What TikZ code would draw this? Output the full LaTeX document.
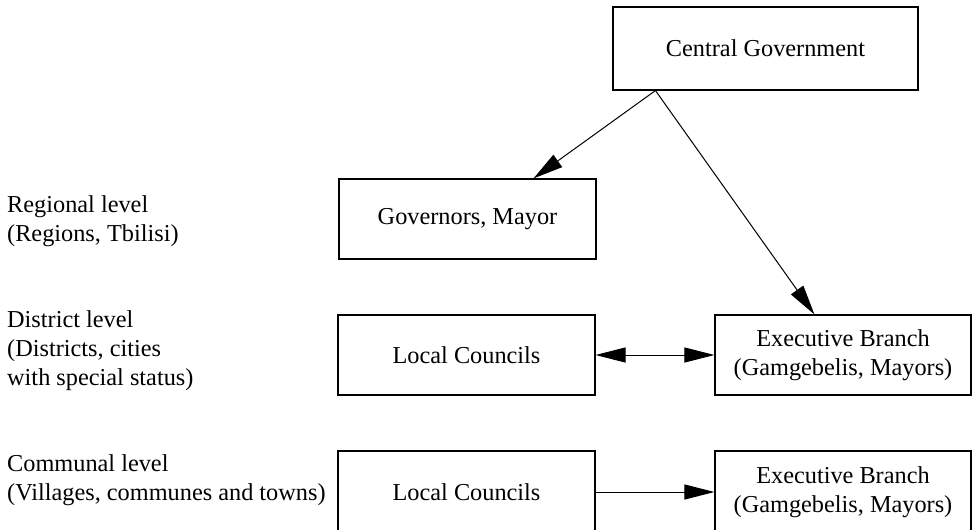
\documentclass[tikz,border=0pt]{standalone}
\usepackage{fontspec}
\setmainfont{Liberation Serif}
\usetikzlibrary{arrows.meta}
\tikzset{
  box/.style={draw, line width=1.1pt, inner sep=0pt, align=center, rectangle,
    minimum height=80pt, minimum width=257pt},
  lvl/.style={anchor=west, inner sep=0pt, align=left},
  conn/.style={line width=1pt, -{Triangle[length=30pt,width=15pt]}},
  dconn/.style={line width=1pt, {Triangle[length=30pt,width=15pt]}-{Triangle[length=30pt,width=15pt]}}
}
\begin{document}
\begin{tikzpicture}[x=1pt,y=-1pt, font=\fontsize{24.3}{29}\selectfont]
\useasboundingbox (0,0) rectangle (972,530);
\node[box, minimum width=305pt, minimum height=83pt] (central) at (765.5,48.5) {Central Government};
\node[box] (gov) at (467.5,219) {Governors, Mayor};
\node[box] (lc1) at (466.5,355) {Local Councils};
\node[box, minimum width=256pt] (ex1) at (843,355) {Executive Branch\\(Gamgebelis, Mayors)};
\node[box, minimum height=82pt] (lc2) at (466.5,492) {Local Councils};
\node[box, minimum width=256pt, minimum height=82pt] (ex2) at (843,492) {Executive Branch\\(Gamgebelis, Mayors)};
\node[lvl] (reg) at (7,221) {Regional level\\(Regions, Tbilisi)};
\node[lvl] (dist) at (7,351) {District level\\(Districts, cities\\with special status)};
\node[lvl] (comm) at (7,480) {Communal level\\(Villages, communes and towns)};
\draw[conn] ([xshift=43pt]central.south west) -- ([xshift=195pt]gov.north west);
\draw[conn] ([xshift=43pt]central.south west) -- ([xshift=100pt]ex1.north west);
\draw[dconn] (lc1.east) -- (ex1.west);
\draw[conn] (lc2.east) -- (ex2.west);
\end{tikzpicture}
\end{document}
